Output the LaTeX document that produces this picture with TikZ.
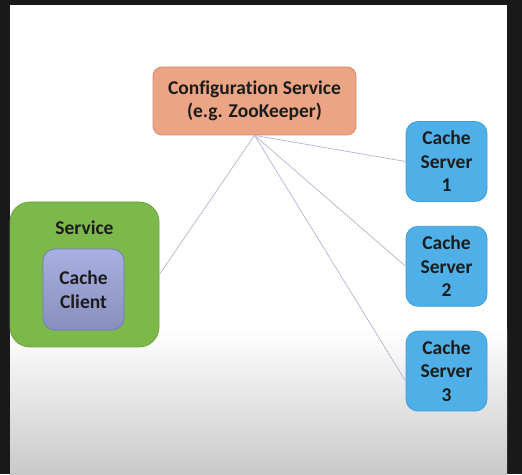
\documentclass[tikz,border=0pt]{standalone}
\usepackage{fontspec}
\setmainfont{Carlito}[Ligatures=NoCommon]
\usepackage{xcolor}
\usetikzlibrary{positioning}

\definecolor{cfgfill}{HTML}{EBA584}
\definecolor{cfgline}{HTML}{D9876A}
\definecolor{svcfill}{HTML}{7DB84A}
\definecolor{svcline}{HTML}{6BA23D}
\definecolor{clifill}{HTML}{9EA8DE}
\definecolor{cliline}{HTML}{6F7CC2}
\definecolor{srvfill}{HTML}{4FB0E8}
\definecolor{srvline}{HTML}{3E9FDA}
\definecolor{linkcol}{HTML}{B0B6D6}
\definecolor{txtcol}{HTML}{1C1C1C}
\definecolor{framecol}{HTML}{191919}

\begin{document}
\begin{tikzpicture}[
  x=1pt, y=1pt,
  node distance=24pt,
  boxtext/.style={font=\fontsize{19.5}{23.5}\selectfont\bfseries, text=txtcol,
                  align=center, inner sep=2pt},
  cfgbox/.style={boxtext, draw=cfgline, fill=cfgfill, line width=0.8pt,
                 rounded corners=9pt, minimum width=203pt, minimum height=68pt},
  svcbox/.style={draw=svcline, fill=svcfill, line width=0.8pt,
                 rounded corners=20pt, minimum width=149pt, minimum height=145pt},
  clibox/.style={boxtext, draw=cliline, top color=clifill!90!white,
                 bottom color=clifill!85!black, line width=0.8pt,
                 rounded corners=12pt, minimum width=81pt, minimum height=81pt},
  srvbox/.style={boxtext, draw=srvline, fill=srvfill, line width=0.8pt,
                 rounded corners=12pt, minimum width=81pt, minimum height=80pt},
  link/.style={draw=linkcol, line width=0.7pt}]
  % frame and slide background
  \fill[framecol] (0,0) rectangle (522,474);
  \fill[white] (10,144) rectangle (507,469);
  \shade[top color=white, bottom color=black!21] (10,0) rectangle (507,144.5);
  \useasboundingbox (0,0) rectangle (522,474);

  \node[cfgbox] (cfg) at (254.5,373) {Configuration Service\\(e.g. ZooKeeper)};
  \node[svcbox, label={[boxtext, anchor=north, yshift=-17pt]north:Service}]
    (service) at (84.5,199.5) {};
  \node[clibox] (client) at (83.5,184.5) {Cache\\Client};

  \node[srvbox] (srv1) at (446.5,312.5) {Cache\\Server\\1};
  \node[srvbox, below=of srv1] (srv2) {Cache\\Server\\2};
  \node[srvbox, below=of srv2] (srv3) {Cache\\Server\\3};

  \draw[link] (cfg.south) -- (service.east);
  \draw[link] (cfg.south) -- (srv1.west);
  \draw[link] (cfg.south) -- (srv2.west);
  \draw[link] (cfg.south) -- ([yshift=-10pt]srv3.west);
\end{tikzpicture}
\end{document}
